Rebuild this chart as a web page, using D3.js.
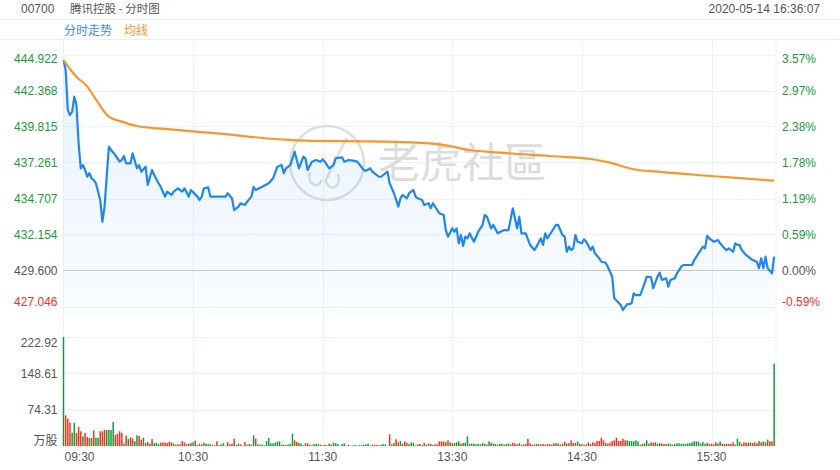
<!DOCTYPE html>
<html><head><meta charset="utf-8">
<script src="https://cdn.jsdelivr.net/npm/d3@7"></script>
<style>
body{margin:0;background:#fff}
svg{display:block}
text{font-family:"Liberation Sans",Arial,"Noto Sans CJK SC",sans-serif}
</style>
</head><body>
<svg id="c" width="840" height="470"></svg>
<script>
// ---------- data ----------
const stockCode = "00700";
const title = "腾讯控股 - 分时图";
const stamp = "2020-05-14 16:36:07";
const legendNames = ["分时走势", "均线"];
const prevClose = 429.6;
const priceTickLabels = ["444.922","442.368","439.815","437.261","434.707","432.154","429.600","427.046"];
const pctTickLabels = ["3.57%","2.97%","2.38%","1.78%","1.19%","0.59%","0.00%","-0.59%"];
const volTickValues = [222.92, 148.61, 74.31, 0];
const volTickLabels = ["222.92", "148.61", "74.31", "万股"];
const timeLabels = ["09:30","10:30","11:30","13:30","14:30","15:30"];
const timeSlots = [0, 60, 120, 180, 240, 300];

// minute slot (0..330, morning 0-150, afternoon 151-330) and last price
const priceSlot = [0,1,2,3,4,5,6,7,8,9,10,11,12,13,14,15,17,18,19,21,22,24,26,27,28,29,31,32,34,35,36,38,39,41,42,44,45,47,48,50,51,53,55,56,58,59,62,63,64,65,67,68,72,75,76,78,79,81,82,84,85,87,88,89,92,95,97,99,101,102,103,105,107,108,109,111,112,113,115,117,119,120,121,123,125,126,129,130,132,134,136,139,140,142,143,146,147,150,
151,153,155,156,157,159,160,162,163,164,166,167,169,170,171,174,176,177,178,180,181,182,183,184,185,186,187,188,190,192,194,195,196,198,199,201,204,206,208,210,211,212,214,216,218,219,221,222,223,224,226,228,229,231,232,233,234,235,236,237,238,240,241,242,244,245,246,248,249,251,252,254,255,258,259,261,262,263,264,265,267,269,270,272,273,275,276,277,279,280,281,283,284,286,287,289,291,292,294,296,297,298,299,301,303,304,306,307,308,310,311,312,313,314,316,317,319,321,322,323,324,325,326,328,329];
const priceVal = [444.53,443.82,440.99,440.63,440.86,441.93,441.34,438.62,436.85,437.08,436.73,436.25,436.50,436.14,436.02,435.79,434.60,433.06,434.13,438.38,438.15,437.79,437.32,437.44,437.72,437.20,437.20,437.91,436.85,437.08,436.61,436.96,435.67,436.73,436.37,435.79,435.54,434.84,435.19,434.96,435.19,435.43,435.19,435.43,434.84,435.31,434.84,434.60,434.84,435.43,435.50,434.84,434.84,434.84,435.08,434.72,433.89,434.13,434.37,434.25,434.48,434.84,435.54,435.31,435.54,435.79,436.14,436.96,437.08,436.50,436.85,437.08,438.03,437.44,436.85,437.67,437.56,436.73,437.32,437.44,437.32,437.49,437.32,436.85,437.08,437.56,437.63,437.32,437.44,437.39,437.32,436.73,436.68,436.85,436.61,436.25,436.25,436.61,
435.79,435.08,434.13,434.72,434.96,434.72,435.08,435.31,434.84,434.72,434.60,434.25,434.37,434.01,434.37,433.66,433.54,432.47,432.00,432.59,432.35,432.59,431.53,432.12,431.34,432.00,431.88,432.24,431.64,432.35,432.83,433.54,433.42,432.59,432.83,432.24,432.47,432.47,434.01,432.59,433.42,432.24,432.24,431.41,431.05,431.29,431.88,431.41,432.24,431.88,432.35,432.83,432.83,432.12,432.00,430.93,431.29,431.05,431.17,432.12,431.64,431.53,431.81,431.64,431.05,431.29,430.82,430.47,430.22,430.15,429.87,429.16,427.63,427.15,426.80,427.22,427.22,427.27,427.98,427.86,427.86,428.69,429.16,429.12,428.34,429.16,429.44,428.93,429.05,428.45,428.93,429.05,429.40,429.87,429.99,429.99,429.99,430.34,430.82,431.29,431.17,432.05,431.88,431.64,431.76,431.53,431.17,431.05,431.17,430.93,431.53,431.41,431.41,431.05,430.70,430.58,430.34,430.22,429.76,430.47,429.76,430.58,429.76,429.40,430.58];

// average price line
const avgSlot = [0,4,6,11,15,21,27,34,47,61,76,89,104,112,148,174,188,202,225,245,253,264,275,298,329];
const avgVal  = [444.53,443.70,443.35,442.64,441.74,440.51,440.16,439.85,439.64,439.45,439.26,439.05,438.86,438.81,438.74,438.55,438.15,437.96,437.72,437.49,437.25,436.78,436.61,436.32,435.97];

// volume (万股) per minute slot, morning 0-150, afternoon 151-329
const volAM = [222.92,62.8,55.9,47.7,27.3,47.7,26.6,39.5,30,19.8,
26.6,18.4,16.4,16.4,32,17,17,30,30,33.4,
32.7,32.7,32.7,49,23,25,30,26.6,4.8,21,
14.3,17.7,15.7,9.6,21.8,20.4,13,17,6,8.2,
4.8,14.3,6,6,4,6.8,7.5,6.8,6,8.9,
7.5,4.8,2.7,3.4,3.4,10.2,7.5,4,4.8,6,
7.5,11,2,4.8,3.4,6.8,4.8,4,3.4,2,
1.4,9.5,1.4,3.4,5.5,1,8,3.4,4.8,15,
2,4.8,3.4,1,8,2.7,4,2.7,21.8,15,
3.4,2.7,2.7,1.4,10,16.4,5.5,5.5,6.8,8.9,9.5,
2.7,2.7,2,3.4,4.8,25.2,11.6,8.2,6.1,4.8,
1.4,5.5,5.5,2.7,1.4,4.1,4.1,3.4,2.7,1.4,
2.7,1.4,4.8,2.7,6.8,5.5,4.1,0.7,4.1,5.5,
0.7,2.7,0.7,1.4,2,0.7,2,1.4,2.7,3.4,
4.8,0.7,2.7,2.7,2,1.4,2.7,3.4,3.4,0.7];
const volPM = [23.9,3.4,6.1,13.6,7.5,10.2,4.8,9.5,6.1,4.1,
7.5,6.8,1.4,3.4,4.1,2,6.1,2.7,4.8,4.1,
2,3.4,3.4,9.5,9.5,9.5,7.5,11.6,7.5,5.5,
6.1,7.5,9.5,4.8,6.1,6.8,19.8,4.1,4.8,4.8,
3.4,4.1,3.4,6.1,4.1,3.4,9.5,6.1,4.8,4.1,
2.7,4.1,4.8,2.7,4.1,4.8,3.4,6.8,5.5,3.4,
5.5,2.7,3.4,4.1,14.3,5.5,2.7,3.4,4.1,3.4,
3.4,4.1,2.7,3.4,4.1,2.7,5.5,6.1,4.8,
2.7,4.8,8.9,4.8,6.1,11.6,6.1,6.1,9.5,4.8,
3.4,2.7,2.7,7.5,4.1,7.5,6.1,10.2,10.2,17,
11.6,6.8,4.8,6.8,10.2,11.6,17,10.2,10.2,15,
11.6,11.6,10.2,10.2,9.5,11.6,9.5,2.7,4.1,5.5,
11.6,4.8,7.5,6.8,7.5,4.8,6.1,4.8,4.1,4.1,
4.8,4.8,2.7,4.1,5.5,5.5,4.1,4.8,4.1,5.5,
5.5,7.5,9.5,9.5,8.9,4.8,8.2,4.8,6.1,4.1,
4.8,3.4,7.5,5.5,9.5,4.8,4.1,4.1,4.1,4.1,
7.5,2.7,15,8.2,4.1,7.5,6.8,6.1,7.5,6.1,
7.5,5.5,10.2,7.5,9.5,7.5,13,9.5,9.5,168.5];
// r = up (red), g = down (green)
const dirAM = "grrrggrrrg"+"rrrgrggrrr"+"ggggrrrrgr"+"grrggrrgrg"+"rrgggrrrrr"+"rggrrrrgrg"+"grrgrggrgg"+"rrgggrrrgr"+"rgrgrggrgr"+"ggggggggggg"+"rrggggrrgg"+"grrgggggrr"+"ggrrgggggg"+"rrgggggggg"+"grrrrrgggg";
const dirPM = "rggrrgrrrg"+"ggrrgrrrgr"+"rrrrrrrgrr"+"gggrgggrgg"+"ggggrrggrg"+"gggrggrrrg"+"grgrrrgrgr"+"rgrrrrgrg"+"rgrrgrrggr"+"rgrrgrrrrr"+"rgrrrrrrrr"+"rggggggrgg"+"grgrrggrrg"+"ggrggggggg"+"ggggggggrr"+"grrggrrrgr"+"rrggrrrrgr"+"rrgrgrgrrg";

// ---------- layout ----------
const svg = d3.select("#c");
const L = 63.5, R = 776;
const priceTop = 54.5, priceBot = 316;
const volTop = 337, volBot = 446;
const gridColor = "#e9f3fa";
const green = "#169b3a", red = "#f2331d", gray = "#555";
const blue = "#1f87ee", orange = "#f8962b";

const x = d3.scaleLinear().domain([0, 330]).range([L, L + 330 * 2.16]);
const y = d3.scaleLinear().domain([+priceTickLabels[7], +priceTickLabels[0]]).range([306.5, 54.5]);
const yv = d3.scaleLinear().domain([0, volTickValues[0]]).range([volBot, volTop]);

// header
svg.append("text").attr("x", 21).attr("y", 13).attr("font-size", 12).attr("fill", gray).text(stockCode);
svg.append("text").attr("x", 70).attr("y", 13).attr("font-size", 11.5).attr("fill", gray)
  .style("font-family", '"Noto Sans CJK SC",sans-serif').text(title);
svg.append("text").attr("x", 820).attr("y", 13).attr("font-size", 12).attr("fill", gray)
  .attr("text-anchor", "end").text(stamp);
// legend box
svg.append("rect").attr("x", -1).attr("y", 19.5).attr("width", 842).attr("height", 20)
  .attr("fill", "none").attr("stroke", "#e6f2fa");
svg.append("text").attr("x", 64).attr("y", 34.5).attr("font-size", 12).attr("fill", "#3a8ee8")
  .style("font-family", '"Noto Sans CJK SC",sans-serif').text(legendNames[0]);
svg.append("text").attr("x", 124).attr("y", 34.5).attr("font-size", 12).attr("fill", orange)
  .style("font-family", '"Noto Sans CJK SC",sans-serif').text(legendNames[1]);

// vertical gridlines
const grid = svg.append("g");
timeSlots.slice(1).forEach(s => {
  grid.append("line").attr("x1", Math.round(x(s)) + 0.5).attr("x2", Math.round(x(s)) + 0.5)
    .attr("y1", 40).attr("y2", volBot).attr("stroke", gridColor);
});
[L, R].forEach(xx => grid.append("line").attr("x1", xx).attr("x2", xx).attr("y1", 40).attr("y2", volBot).attr("stroke", gridColor));
// horizontal price gridlines
priceTickLabels.forEach(t => {
  const yy = Math.round(y(+t)) + 0.5;
  grid.append("line").attr("x1", L).attr("x2", R).attr("y1", yy).attr("y2", yy)
    .attr("stroke", +t === prevClose ? "#c9c9c9" : gridColor);
});
volTickValues.forEach(v => {
  const yy = Math.round(yv(v)) + 0.5;
  grid.append("line").attr("x1", L).attr("x2", R).attr("y1", yy).attr("y2", yy).attr("stroke", gridColor);
});

// watermark
const wm = svg.append("g");
wm.append("circle").attr("cx", 327).attr("cy", 163).attr("r", 37).attr("fill", "none").attr("stroke", "#dedede").attr("stroke-width", 2.5);
wm.append("path").attr("d", "M347,138 C340,150 333,165 325,182 M310,172 C306,184 318,190 322,180 M326,182 C330,192 342,188 338,174")
  .attr("fill", "none").attr("stroke", "#dedede").attr("stroke-width", 2.5);
wm.append("text").attr("x", 378).attr("y", 178).attr("font-size", 42).attr("fill", "#dcdcdc")
  .style("font-family", '"Noto Sans CJK TC",sans-serif').text("老虎社區");

// area + price line
const pts = priceSlot.map((s, i) => [s, priceVal[i]]);
const defs = svg.append("defs");
const lg = defs.append("linearGradient").attr("id", "fillG").attr("x1", 0).attr("x2", 0).attr("y1", 0).attr("y2", 1);
lg.append("stop").attr("offset", "0%").attr("stop-color", blue).attr("stop-opacity", 0.11);
lg.append("stop").attr("offset", "100%").attr("stop-color", blue).attr("stop-opacity", 0.02);
svg.append("path").datum(pts)
  .attr("d", d3.area().x(d => x(d[0])).y0(priceBot).y1(d => y(d[1])))
  .attr("fill", "url(#fillG)");
svg.append("path").datum(pts)
  .attr("d", d3.line().x(d => x(d[0])).y(d => y(d[1])))
  .attr("fill", "none").attr("stroke", blue).attr("stroke-width", 2.2).attr("stroke-linejoin", "round");
const avgPts = avgSlot.map((s, i) => [s, avgVal[i]]);
svg.append("path").datum(avgPts)
  .attr("d", d3.line().curve(d3.curveMonotoneX).x(d => x(d[0])).y(d => y(d[1])))
  .attr("fill", "none").attr("stroke", orange).attr("stroke-width", 2.2);

// volume bars
const vol = volAM.concat(volPM);
const dir = dirAM + dirPM;
svg.append("g").selectAll("rect").data(vol).join("rect")
  .attr("x", (d, i) => x(i) - 0.75)
  .attr("width", 1.5)
  .attr("y", d => yv(d))
  .attr("height", d => volBot - yv(d))
  .attr("fill", (d, i) => dir[i] === "r" ? red : green);

// axis labels
priceTickLabels.forEach((t, i) => {
  const yy = Math.max(59, Math.min(302, y(+t)));
  const col = +t > prevClose ? green : (+t < prevClose ? red : gray);
  svg.append("text").attr("x", 57.5).attr("y", yy).attr("dy", "0.35em").attr("text-anchor", "end")
    .attr("font-size", 12).attr("fill", col).text(t);
  svg.append("text").attr("x", 782).attr("y", yy).attr("dy", "0.35em")
    .attr("font-size", 12).attr("fill", col).text(pctTickLabels[i]);
});
volTickValues.forEach((v, i) => {
  const yy = Math.max(343, Math.min(441, yv(v)));
  svg.append("text").attr("x", 57.5).attr("y", yy).attr("dy", "0.35em").attr("text-anchor", "end")
    .attr("font-size", 12).attr("fill", gray)
    .style("font-family", i === 3 ? '"Noto Sans CJK SC",sans-serif' : null).text(volTickLabels[i]);
});
timeLabels.forEach((t, i) => {
  svg.append("text").attr("x", i === 0 ? L + 1 : x(timeSlots[i])).attr("y", 461)
    .attr("text-anchor", i === 0 ? "start" : "middle").attr("font-size", 12).attr("fill", gray).text(t);
});
</script>
</body></html>
